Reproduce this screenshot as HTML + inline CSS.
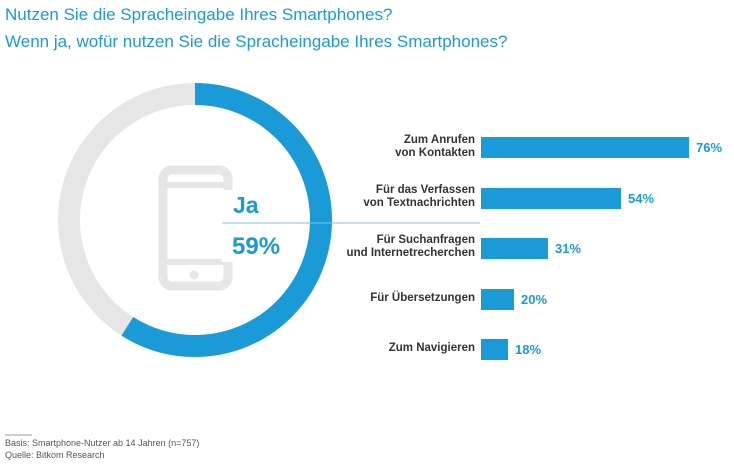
<!DOCTYPE html>
<html><head><meta charset="utf-8"><style>
body{margin:0;width:734px;height:469px;background:#fff;font-family:"Liberation Sans",sans-serif;position:relative;overflow:hidden}
.t{position:absolute;left:5px;color:#1a9ad6;font-size:17px;letter-spacing:0px}
.l{position:absolute;right:259px;text-align:right;font-size:11.5px;font-weight:bold;color:#333;line-height:13px}
.b{position:absolute;left:481px;height:21px;background:#1a9ad6}
.p{position:absolute;font-size:13px;font-weight:bold;color:#1a9ad6}
.f{position:absolute;left:5px;font-size:9px;color:#555}
</style></head><body>
<div class="t" style="top:5px">Nutzen Sie die Spracheingabe Ihres Smartphones?</div>
<div class="t" style="top:32px">Wenn ja, wofür nutzen Sie die Spracheingabe Ihres Smartphones?</div>
<svg width="734" height="469" style="position:absolute;left:0;top:0">
<circle cx="195" cy="220" r="126" fill="none" stroke="#e6e6e6" stroke-width="22"/>
<circle cx="195" cy="220" r="126" fill="none" stroke="#1a9ad6" stroke-width="22" stroke-dasharray="467.1 1000" transform="rotate(-90 195 220)"/>
<rect x="163" y="170" width="65" height="116" rx="9" fill="none" stroke="#e6e6e6" stroke-width="9"/>
<line x1="163" y1="185" x2="228" y2="185" stroke="#e6e6e6" stroke-width="6"/>
<line x1="163" y1="262" x2="228" y2="262" stroke="#e6e6e6" stroke-width="6"/>
<circle cx="194" cy="275" r="4.5" fill="#e6e6e6"/>
<rect x="222" y="190" width="60" height="72" fill="#fff"/>
<line x1="222" y1="223" x2="480" y2="223" stroke="#7fc3e8" stroke-width="1"/>
<text x="233" y="213" font-size="23" font-weight="bold" fill="#1a9ad6" font-family="Liberation Sans">Ja</text>
<text x="232" y="254" font-size="24" font-weight="bold" fill="#1a9ad6" font-family="Liberation Sans">59%</text>
<line x1="5" y1="435" x2="32" y2="435" stroke="#999" stroke-width="1"/>
</svg>
<div class="l" style="top:134px">Zum Anrufen<br>von Kontakten</div>
<div class="b" style="top:137px;width:208px"></div><div class="p" style="left:696px;top:140px">76%</div>
<div class="l" style="top:184px">Für das Verfassen<br>von Textnachrichten</div>
<div class="b" style="top:188px;width:140px"></div><div class="p" style="left:628px;top:191px">54%</div>
<div class="l" style="top:234px">Für Suchanfragen<br>und Internetrecherchen</div>
<div class="b" style="top:238px;width:67px"></div><div class="p" style="left:555px;top:241px">31%</div>
<div class="l" style="top:292px">Für Übersetzungen</div>
<div class="b" style="top:289px;width:33px"></div><div class="p" style="left:521px;top:292px">20%</div>
<div class="l" style="top:342px">Zum Navigieren</div>
<div class="b" style="top:339px;width:27px"></div><div class="p" style="left:515px;top:342px">18%</div>
<div class="f" style="top:438px">Basis: Smartphone-Nutzer ab 14 Jahren (n=757)</div>
<div class="f" style="top:450px">Quelle: Bitkom Research</div>
</body></html>
